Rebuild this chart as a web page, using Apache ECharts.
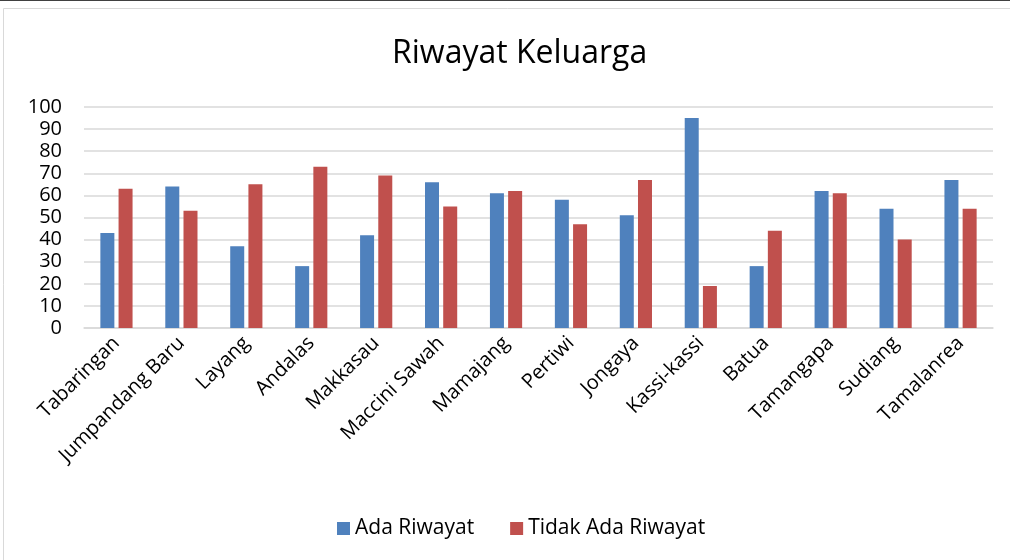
<!DOCTYPE html>
<html>
<head>
<meta charset="utf-8">
<script src="https://cdn.jsdelivr.net/npm/echarts@6/dist/echarts.min.js"></script>
<style>
  html, body { margin: 0; padding: 0; background: #fff; }
  #chart { width: 1010px; height: 560px; }
</style>
</head>
<body>
<div id="chart"></div>
<script>
const categories = ["Tabaringan", "Jumpandang Baru", "Layang", "Andalas", "Makkasau", "Maccini Sawah", "Mamajang", "Pertiwi", "Jongaya", "Kassi-kassi", "Batua", "Tamangapa", "Sudiang", "Tamalanrea"];
const adaRiwayat = [43, 64, 37, 28, 42, 66, 61, 58, 51, 95, 28, 62, 54, 67];
const tidakAdaRiwayat = [63, 53, 65, 73, 69, 55, 62, 47, 67, 19, 44, 61, 40, 54];

const chart = echarts.init(document.getElementById("chart"), null, { renderer: "canvas" });
const font = "Open Sans, Noto Sans, sans-serif";

const option = {
  animation: false,
  textStyle: { fontFamily: font },
  color: ["#4f81bd", "#c0504d"],
  graphic: [
    // dark line at top of the screenshot
    { type: "rect", shape: { x: 0, y: 0, width: 1010, height: 1 }, style: { fill: "#404040" } },
    // chart area border
    { type: "rect", shape: { x: 3.5, y: 8.5, width: 1020, height: 600 }, style: { fill: "none", stroke: "#d9d9d9", lineWidth: 1 } }
  ],
  title: {
    text: "Riwayat Keluarga",
    left: 387,
    top: 33,
    textStyle: { fontFamily: font, fontSize: 32, fontWeight: "normal", color: "#000" }
  },
  legend: {
    bottom: 16,
    left: 332,
    itemWidth: 13,
    itemHeight: 13,
    itemGap: 36,
    icon: "rect",
    textStyle: { fontFamily: font, fontSize: 21, color: "#000" },
    data: ["Ada Riwayat", "Tidak Ada Riwayat"]
  },
  grid: { left: 84, right: 17, top: 107, bottom: 232, containLabel: false },
  xAxis: {
    type: "category",
    data: categories,
    axisLine: { lineStyle: { color: "#d9d9d9", width: 1.5 } },
    axisTick: { show: false },
    axisLabel: {
      rotate: 45,
      interval: 0,
      margin: 12,
      fontFamily: font,
      fontSize: 20,
      color: "#000"
    }
  },
  yAxis: {
    type: "value",
    min: 0,
    max: 100,
    interval: 10,
    axisLine: { show: false },
    axisTick: { show: false },
    splitLine: { lineStyle: { color: "#d9d9d9", width: 1.5 } },
    axisLabel: { fontFamily: font, fontSize: 20, color: "#000", margin: 22 }
  },
  series: [
    {
      name: "Ada Riwayat",
      type: "bar",
      data: adaRiwayat,
      barWidth: 14,
      barGap: "30%"
    },
    {
      name: "Tidak Ada Riwayat",
      type: "bar",
      data: tidakAdaRiwayat,
      barWidth: 14,
      barGap: "30%"
    }
  ]
};

chart.setOption(option);
</script>
</body>
</html>
